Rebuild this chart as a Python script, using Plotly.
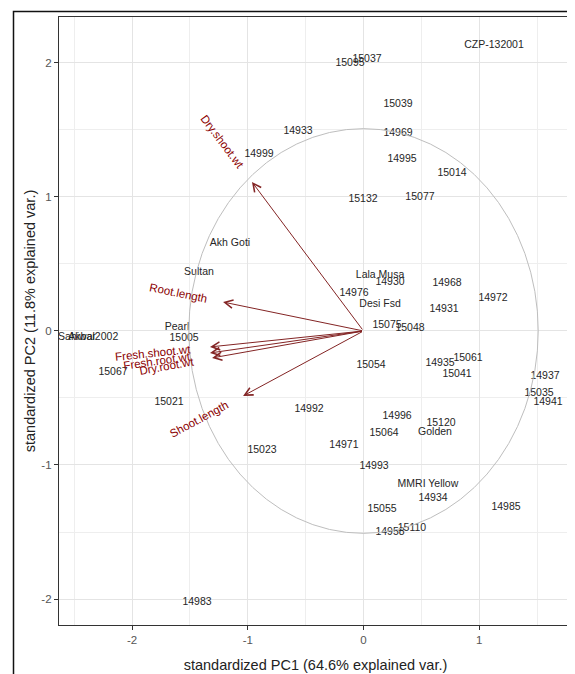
import math
import plotly.graph_objects as go

# ---------------- data ----------------
genotypes = ["CZP-132001", "15095", "15037", "15039", "14933", "14969", "14999", "14995",
             "15014", "15132", "15077", "Akh Goti", "Sultan", "Lala Musa", "14930", "14968",
             "14976", "14972", "Desi Fsd", "14931", "Pearl", "15005", "Akbar", "Sahiwal2002",
             "15075", "15048", "15054", "14935", "15061", "15041", "15067", "14937", "15035",
             "14941", "15021", "14992", "14996", "15120", "15064", "Golden", "14971", "15023",
             "14993", "MMRI Yellow", "14934", "15055", "14985", "15110", "14958", "14983"]
pc1 = [1.128, -0.117, 0.030, 0.298, -0.566, 0.298, -0.903, 0.333,
       0.765, -0.004, 0.488, -1.154, -1.422, 0.143, 0.229, 0.722,
       -0.082, 1.119, 0.143, 0.696, -1.612, -1.551, -2.433, -2.38,
       0.203, 0.402, 0.065, 0.661, 0.903, 0.808, -2.165, 1.569, 1.517,
       1.595, -1.681, -0.471, 0.290, 0.670, 0.177, 0.618, -0.169, -0.877,
       0.091, 0.557, 0.601, 0.160, 1.232, 0.419, 0.229, -1.439]
pc2 = [2.134, 2.000, 2.030, 1.694, 1.493, 1.478, 1.321, 1.284,
       1.179, 0.985, 1.000, 0.657, 0.440, 0.418, 0.366, 0.358,
       0.284, 0.246, 0.201, 0.164, 0.030, -0.052, -0.045, -0.045,
       0.045, 0.022, -0.254, -0.239, -0.201, -0.321, -0.306, -0.336, -0.463,
       -0.530, -0.530, -0.582, -0.634, -0.687, -0.761, -0.754, -0.851, -0.888,
       -1.007, -1.142, -1.246, -1.328, -1.313, -1.470, -1.500, -2.025]

var_names = ["Dry.shoot.wt", "Root.length", "Fresh.shoot.wt", "Fresh.root.wt",
             "Dry.root.wt", "Shoot.length"]
var_pc1 = [-0.964, -1.214, -1.327, -1.327, -1.309, -1.041]
var_pc2 = [1.112, 0.216, -0.119, -0.164, -0.201, -0.485]

circle_radius = 1.51

tick_vals = [-2, -1, 0, 1, 2]
tick_text = ["-2", "-1", "0", "1", "2"]

x_title = "standardized PC1 (64.6% explained var.)"
y_title = "standardized PC2 (11.8% explained var.)"

# ---------------- layout geometry ----------------
OFF = 8                      # browser default body margin
W, H = 575 - OFF, 674 - OFF
PL, PR, PT, PB = 59, 572, 17, 625          # panel edges in page pixels
ML, MR, MT, MB = PL - OFF, OFF + W - PR, PT - OFF, OFF + H - PB
XR = [-2.632, 1.802]
YR = [-2.194, 2.343]
pw = W - ML - MR
ph = H - MT - MB
sx = pw / (XR[1] - XR[0])
sy = ph / (YR[1] - YR[0])

FONT = "Liberation Sans, Arial, sans-serif"

fig = go.Figure()

# circle
fig.add_shape(type="circle", xref="x", yref="y",
              x0=-circle_radius, x1=circle_radius, y0=-circle_radius, y1=circle_radius,
              line=dict(color="#BEBEBE", width=1), layer="above")

# genotype labels
fig.add_trace(go.Scatter(x=pc1, y=pc2, text=genotypes, mode="text",
                         textposition="middle center", cliponaxis=True,
                         textfont=dict(family=FONT, size=10.5, color="#262626"),
                         hoverinfo="text", showlegend=False))

annotations = []
for name, vx, vy in zip(var_names, var_pc1, var_pc2):
    annotations.append(dict(x=vx, y=vy, ax=0, ay=0, xref="x", yref="y",
                            axref="x", ayref="y", text="", showarrow=True,
                            arrowhead=5, arrowsize=1.6, arrowwidth=1,
                            arrowcolor="#832424", standoff=0, startstandoff=0))
    dxp, dyp = vx * sx, vy * sy
    n = math.hypot(dxp, dyp)
    ux, uy = dxp / n, dyp / n
    wtxt = len(name) * 5.5
    d = 0.75 * wtxt
    ang = -math.degrees(math.atan(dyp / dxp))
    annotations.append(dict(x=vx, y=vy, xref="x", yref="y", text=name,
                            showarrow=False, xanchor="center", yanchor="middle",
                            xshift=ux * d, yshift=uy * d, textangle=ang,
                            font=dict(family=FONT, size=11.5, color="#8B0000")))

# outer frame (image border), page pixels -> paper coords
def px_to_paper_x(p):
    return (p - PL) / pw

def px_to_paper_y(p):
    return (PB - p) / ph

fig.add_shape(type="rect", xref="paper", yref="paper",
              x0=px_to_paper_x(13.5), x1=px_to_paper_x(574.5),
              y0=px_to_paper_y(690), y1=px_to_paper_y(11.5),
              line=dict(color="#111111", width=1.5), layer="above")

axis_common = dict(
    showgrid=True, gridcolor="#E4E4E4", gridwidth=1.1,
    zeroline=False, showline=True, mirror=True, linecolor="#333333", linewidth=1.2,
    ticks="outside", ticklen=4, tickwidth=1, tickcolor="#333333",
    tickvals=tick_vals, ticktext=tick_text,
    tickfont=dict(family=FONT, size=11.5, color="#555555"),
    minor=dict(dtick=0.5, tick0=0, showgrid=True, gridcolor="#EEEEEE", gridwidth=0.7, ticks=""),
)

fig.update_layout(
    width=W, height=H,
    margin=dict(l=ML, r=MR, t=MT, b=MB, autoexpand=False),
    paper_bgcolor="white", plot_bgcolor="white",
    xaxis=dict(range=XR, title=dict(text=x_title, standoff=14,
                                   font=dict(family=FONT, size=14.5, color="#222222")),
               **axis_common),
    yaxis=dict(range=YR, title=dict(text=y_title, standoff=2,
                                   font=dict(family=FONT, size=14.5, color="#222222")),
               **axis_common),
    annotations=annotations,
    font=dict(family=FONT),
)

fig.write_html("out.html")
